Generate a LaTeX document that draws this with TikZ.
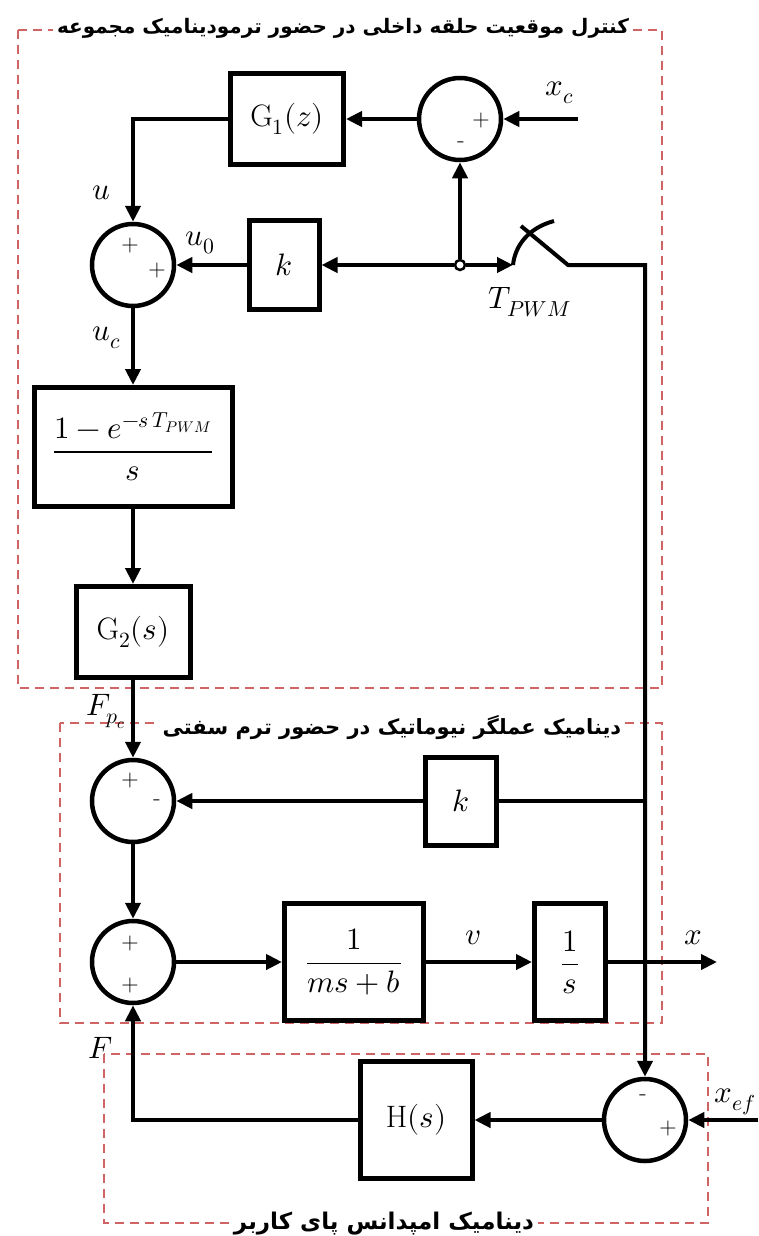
\documentclass[tikz,border=0pt]{standalone}
\usepackage{fontspec}
\usepackage{unicode-math}
\setmathfont{Latin Modern Math}
\newfontfamily\farsifont[Script=Arabic]{DejaVu Sans}
\TeXXeTstate=1
\usetikzlibrary{arrows.meta,positioning}
\definecolor{dashred}{RGB}{208,100,100}

\begin{document}
\begin{tikzpicture}[x=1pt, y=-1pt,
    every node/.style={font=\fontsize{31}{36}\selectfont},
    blk/.style={draw, line width=5pt, inner sep=0pt},
    sumc/.style={draw, circle, line width=4.5pt, minimum size=82pt, inner sep=0pt},
    sgn/.style={font=\fontsize{24}{24}\selectfont},
    sig/.style={-{Triangle[length=16pt,width=15pt]}, line width=4pt},
    wire/.style={line width=4pt},
    grp/.style={draw=dashred, line width=2pt, dash pattern=on 9pt off 6pt},
    ttl/.style={fill=white, inner sep=4pt, font=\farsifont\bfseries\fontsize{20}{24}\selectfont}]

    \useasboundingbox (0,0) rectangle (758,1236);

    % ---- Groups ----
    \draw[grp] (18,30) rectangle (662,688);
    \draw[grp] (60,723) rectangle (662,1023);
    \draw[grp] (104,1054) rectangle (708,1223);
    \node[ttl] (t_inner) at (343,28) {\beginR کنترل موقعیت حلقه داخلی در حضور ترمودینامیک مجموعه\endR};
    \node[ttl, font=\farsifont\bfseries\fontsize{21}{24}\selectfont] (t_act) at (392,728) {\beginR دینامیک عملگر نیوماتیک در حضور ترم سفتی\endR};
    \node[ttl, font=\farsifont\bfseries\fontsize{23}{26}\selectfont] (t_leg) at (384,1224) {\beginR دینامیک امپدانس پای کاربر\endR};

    % ---- Inner position loop ----
    \node[blk, minimum width=113pt, minimum height=91pt] (g1) at (287,119) {$\mathrm{G}_1(z)$};
    \node[sumc] (s1) at (460,119) {};
    \node[blk, minimum width=70pt, minimum height=89pt] (k1) at (284,265) {$k$};
    \node[sumc] (s2) at (133,265) {};
    \node[circle, draw, line width=2.5pt, minimum size=10pt, inner sep=0pt] (jn) at (460,265) {};
    \coordinate (xc_in) at (578,119);
    \coordinate (sw) at (513,265);
    \coordinate (sw_a) at (521,226);
    \coordinate (sw_b) at (568,265);
    \node[blk, minimum width=198pt, minimum height=119pt] (zoh) at (133,447) {$\dfrac{1-e^{-s\,T_{PWM}}}{s}$};
    \node[blk, minimum width=114pt, minimum height=91pt] (g2) at (133,632) {$\mathrm{G}_2(s)$};

    % ---- Pneumatic actuator ----
    \node[sumc] (s3) at (133,801) {};
    \node[blk, minimum width=71pt, minimum height=88pt] (k2) at (461,801) {$k$};
    \node[sumc] (s4) at (133,962) {};
    \node[blk, minimum width=139pt, minimum height=117pt] (plant) at (354,962) {$\dfrac{1}{ms+b}$};
    \node[blk, minimum width=71pt, minimum height=117pt] (integ) at (570,962) {$\dfrac{1}{s}$};
    \coordinate (x_out) at (717,962);

    % ---- Leg impedance ----
    \node[sumc] (s5) at (645,1120) {};
    \node[blk, minimum width=112pt, minimum height=117pt] (hs) at (416,1120) {$\mathrm{H}(s)$};
    \coordinate (xef_in) at (758,1120);

    % ---- Signs ----
    \node[sgn] at (481,121) {+};
    \node[sgn] at (461,145) {-};
    \node[sgn] at (130,246) {+};
    \node[sgn] at (157,271) {+};
    \node[sgn] at (130,781) {+};
    \node[sgn] at (157,803) {-};
    \node[sgn] at (130,943) {+};
    \node[sgn] at (130,985) {+};
    \node[sgn] at (643,1098) {-};
    \node[sgn] at (668,1128) {+};

    % ---- Labels ----
    \node at (560,93) {$x_c$};
    \node at (101,193) {$u$};
    \node at (200,243) {$u_0$};
    \node at (107,338) {$u_c$};
    \node at (530,302) {$T_{PWM}$};
    \node at (106,712) {$F_{p_c}$};
    \node at (473,938) {$v$};
    \node at (693,938) {$x$};
    \node at (735,1102) {$x_{ef}$};
    \node at (101,1048) {$F$};

    % ---- Connections ----
    \draw[sig] (xc_in) -- (s1.east);
    \draw[sig] (s1.west) -- (g1.east);
    \draw[sig] (g1.west) -| (s2.north);
    \draw[sig] (jn.north) -- (s1.south);
    \draw[sig] (jn.west) -- (k1.east);
    \draw[sig] (jn.east) -- (sw);
    \draw[sig] (k1.west) -- (s2.east);
    \draw[wire] (sw) .. controls (515,246) and (528,228) .. (554,221);
    \draw[sig] (sw_a) -- (sw_b) -| (s5.north);
    \draw[sig] (s2.south) -- (zoh.north);
    \draw[sig] (zoh.south) -- (g2.north);
    \draw[sig] (g2.south) -- (s3.north);
    \draw[wire] (k2.east) -- (k2.east -| s5.north);
    \draw[sig] (k2.west) -- (s3.east);
    \draw[sig] (s3.south) -- (s4.north);
    \draw[sig] (s4.east) -- (plant.west);
    \draw[sig] (plant.east) -- (integ.west);
    \draw[sig] (integ.east) -- (x_out);
    \draw[sig] (xef_in) -- (s5.east);
    \draw[sig] (s5.west) -- (hs.east);
    \draw[sig] (hs.west) -| (s4.south);

\end{tikzpicture}
\end{document}
